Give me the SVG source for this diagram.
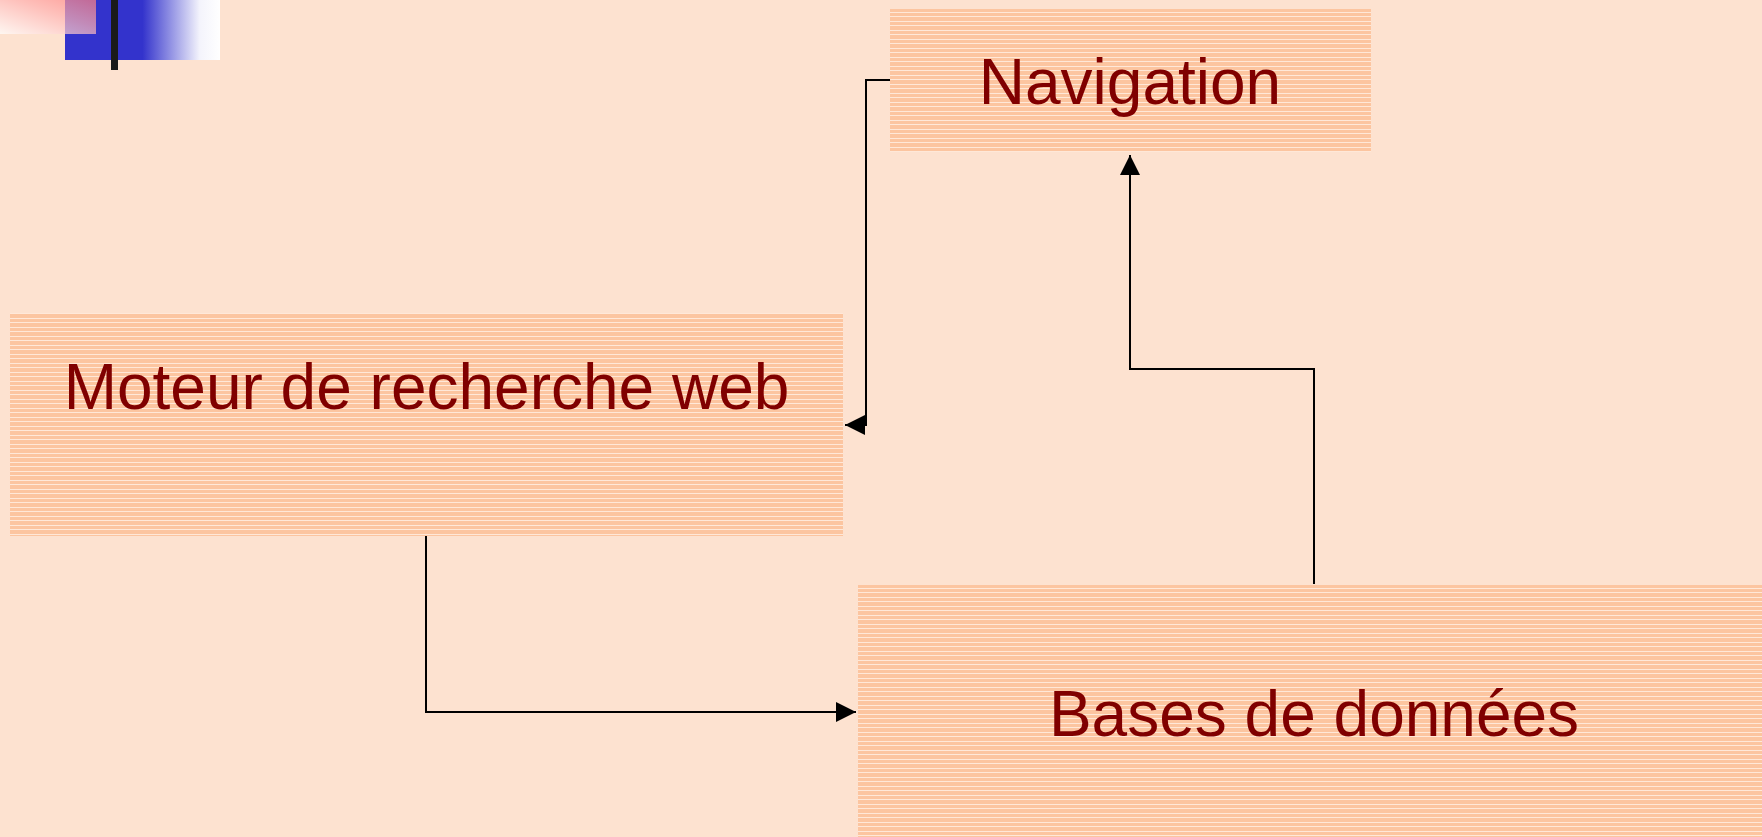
<svg xmlns="http://www.w3.org/2000/svg" width="1762" height="837" viewBox="0 0 1762 837">
<style>
.lbl{font-family:"Liberation Sans",Arial,sans-serif;font-size:64px;fill:#800000;text-anchor:middle}
.box{fill:url(#stripes)}
.conn{fill:none;stroke:#000;stroke-width:2}
</style>
<defs>
<pattern id="stripes" patternUnits="userSpaceOnUse" x="0" y="0" width="8" height="9">
<rect width="8" height="9" fill="#FCC5A0"/>
<rect y="3" width="8" height="1" fill="#FFE8D8"/>
<rect y="7" width="8" height="1" fill="#FFE8D8"/>
</pattern>
<linearGradient id="pinkg" x1="0" y1="1" x2="1" y2="0">
<stop offset="0" stop-color="#FFFFFF"/>
<stop offset="0.6" stop-color="#FFB0B0"/>
<stop offset="1" stop-color="#FF8080"/>
</linearGradient>
<linearGradient id="blueg" x1="0" y1="0" x2="1" y2="0">
<stop offset="0" stop-color="#3333CC"/>
<stop offset="0.5" stop-color="#3333CC"/>
<stop offset="0.87" stop-color="#F4F4FC"/>
<stop offset="1" stop-color="#FFFFFF"/>
</linearGradient>
<marker id="arr" markerUnits="userSpaceOnUse" markerWidth="20" markerHeight="20" refX="20" refY="10" orient="auto" viewBox="0 0 20 20">
<path d="M0 0 L20 10 L0 20 Z" fill="#000"/>
</marker>
</defs>
<rect width="1762" height="837" fill="#FDE2D0"/>
<g id="logo">
<rect x="65" y="0" width="155" height="60" fill="url(#blueg)"/>
<rect x="0" y="0" width="96" height="34" fill="url(#pinkg)" opacity="0.7"/>
<rect x="111" y="0" width="7" height="70" fill="#1A1A1A"/>
</g>
<g id="connectors">
<path class="conn" d="M890 80 H866 V425 H845" marker-end="url(#arr)"/>
<path class="conn" d="M1314 584 V369 H1130 V155" marker-end="url(#arr)"/>
<path class="conn" d="M426 536 V712 H856" marker-end="url(#arr)"/>
</g>
<g id="node-navigation">
<rect class="box" x="890" y="9" width="481" height="143"/>
<text class="lbl" x="1130" y="104">Navigation</text>
</g>
<g id="node-moteur">
<rect class="box" x="10" y="313" width="833" height="223"/>
<text class="lbl" x="426.5" y="409">Moteur de recherche web</text>
</g>
<g id="node-bases">
<rect class="box" x="858" y="585" width="912" height="260"/>
<text class="lbl" x="1314" y="736">Bases de données</text>
</g>
</svg>
